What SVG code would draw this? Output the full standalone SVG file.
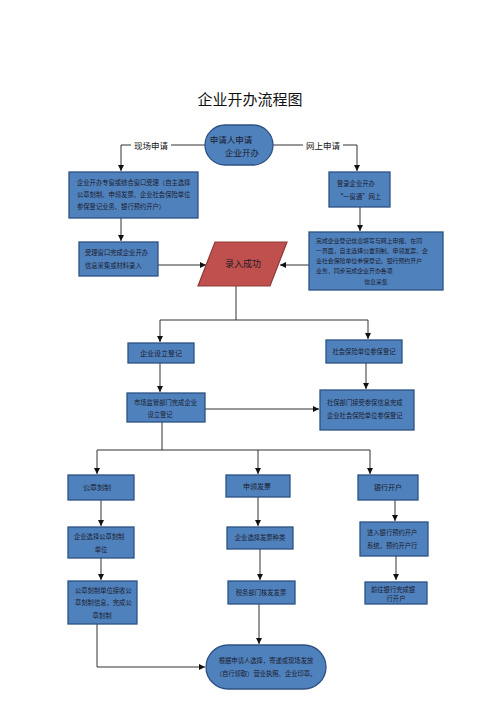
<svg xmlns="http://www.w3.org/2000/svg" width="500" height="708" viewBox="0 0 500 708">
<style>
.t{font-family:"Noto Sans CJK SC","Noto Sans",sans-serif;fill:#1c1c2c}
.box{fill:#4f81bd;stroke:#2d5282;stroke-width:1.3}
.s{font-size:6.3px}
.m{font-size:7px}
.ln{fill:none;stroke:#333;stroke-width:1}
.lbl{font-family:"Noto Sans CJK SC","Noto Sans",sans-serif;font-size:8.5px;fill:#111}
</style>
<defs>
<marker id="ah" viewBox="0 0 8 8" refX="8" refY="4" markerWidth="6" markerHeight="6" orient="auto" markerUnits="userSpaceOnUse">
<path d="M0,0 L8,4 L0,8 z" fill="#111"/>
</marker>
</defs>
<rect width="500" height="708" fill="#fff"/>
<text x="250" y="105" text-anchor="middle" font-family="'Noto Sans CJK SC','Noto Sans',sans-serif" font-size="15" fill="#111">企业开办流程图</text>

<g id="connectors">
<path class="ln" d="M205,145 H121 V171" marker-end="url(#ah)"/>
<path class="ln" d="M273,145 H357 V171" marker-end="url(#ah)"/>
<path class="ln" d="M121,218 V241" marker-end="url(#ah)"/>
<path class="ln" d="M158,265 H206" marker-end="url(#ah)"/>
<path class="ln" d="M360,207 V231" marker-end="url(#ah)"/>
<path class="ln" d="M309,265 H280" marker-end="url(#ah)"/>
<path class="ln" d="M236,286 V320 M160,320 H368"/>
<path class="ln" d="M160,320 V342" marker-end="url(#ah)"/>
<path class="ln" d="M368,320 V339" marker-end="url(#ah)"/>
<path class="ln" d="M160,363 V392" marker-end="url(#ah)"/>
<path class="ln" d="M366,363 V389" marker-end="url(#ah)"/>
<path class="ln" d="M205,409 H319" marker-end="url(#ah)"/>
<path class="ln" d="M162,422 V450 M97,450 H370"/>
<path class="ln" d="M97,450 V474" marker-end="url(#ah)"/>
<path class="ln" d="M258,450 V474" marker-end="url(#ah)"/>
<path class="ln" d="M370,450 V474" marker-end="url(#ah)"/>
<path class="ln" d="M101,500 V526" marker-end="url(#ah)"/>
<path class="ln" d="M258,497 V526" marker-end="url(#ah)"/>
<path class="ln" d="M395,500 V521" marker-end="url(#ah)"/>
<path class="ln" d="M101,558 V580" marker-end="url(#ah)"/>
<path class="ln" d="M260,549 V580" marker-end="url(#ah)"/>
<path class="ln" d="M396,556 V580" marker-end="url(#ah)"/>
<path class="ln" d="M97,624 V667 H205" marker-end="url(#ah)"/>
<path class="ln" d="M259,604 V644" marker-end="url(#ah)"/>
<rect x="131" y="139" width="40" height="12" fill="#fff"/>
<text class="lbl" x="151" y="148.5" text-anchor="middle">现场申请</text>
<rect x="303" y="139" width="40" height="12" fill="#fff"/>
<text class="lbl" x="323" y="148.5" text-anchor="middle">网上申请</text>
</g>

<g id="start">
<rect class="box" x="205" y="125" width="68" height="40" rx="20" ry="20"/>
<text class="t" x="231" y="143" text-anchor="middle" font-size="8.5">申请人申请</text>
<text class="t" x="242" y="156" text-anchor="middle" font-size="8.5">企业开办</text>
</g>

<g id="onsite1">
<rect class="box" x="69" y="172" width="129" height="46"/>
<text class="t s" x="77" y="185">企业开办专窗或综合窗口受理（自主选择</text>
<text class="t s" x="77" y="197">公章刻制、申领发票、企业社会保险单位</text>
<text class="t s" x="77" y="209">参保登记业务、银行预约开户）</text>
</g>

<g id="onsite2">
<rect class="box" x="79" y="242" width="79" height="34"/>
<text class="t s" x="85" y="255">受理窗口完成企业开办</text>
<text class="t s" x="85" y="268">信息采集或材料录入</text>
</g>

<g id="online1">
<rect class="box" x="329" y="172" width="61" height="35"/>
<text class="t s" x="337" y="186">登录企业开办</text>
<text class="t s" x="337" y="199">“一窗通”网上</text>
</g>

<g id="online2">
<rect class="box" x="309" y="232" width="134" height="58"/>
<text class="t" font-size="5.9" x="316" y="243">完成企业登记信息填写与网上申报，在同</text>
<text class="t" font-size="5.9" x="316" y="253">一界面，自主选择公章刻制、申领发票、企</text>
<text class="t" font-size="5.9" x="316" y="263">业社会保险单位参保登记、银行预约开户</text>
<text class="t" font-size="5.9" x="316" y="273">业务，同步完成企业开办各项</text>
<text class="t" font-size="5.9" x="376" y="284" text-anchor="middle">信息采集</text>
</g>

<g id="success">
<polygon points="215,242 287,242 270,286 198,286" fill="#c0504d" stroke="#8c3a38" stroke-width="1.2"/>
<text class="t" x="243" y="267" text-anchor="middle" font-size="9" fill="#2a1010">录入成功</text>
</g>

<g id="setup">
<rect class="box" x="128" y="343" width="66" height="20"/>
<text class="t m" x="161" y="356" text-anchor="middle">企业设立登记</text>
</g>

<g id="social">
<rect class="box" x="326" y="340" width="76" height="23"/>
<text class="t s" x="364" y="354" text-anchor="middle">社会保险单位参保登记</text>
</g>

<g id="market">
<rect class="box" x="127" y="393" width="78" height="29"/>
<text class="t s" x="134" y="405">市场监管部门完成企业</text>
<text class="t s" x="160" y="417" text-anchor="middle">设立登记</text>
</g>

<g id="socialdone">
<rect class="box" x="320" y="390" width="94" height="40"/>
<text class="t s" x="327" y="405">社保部门接受参保信息完成</text>
<text class="t s" x="327" y="418">企业社会保险单位参保登记</text>
</g>

<g id="seal">
<rect class="box" x="68" y="475" width="66" height="25"/>
<text class="t m" x="97" y="490" text-anchor="middle">公章刻制</text>
</g>

<g id="invoice">
<rect class="box" x="226" y="475" width="64" height="22"/>
<text class="t m" x="257" y="489" text-anchor="middle">申领发票</text>
</g>

<g id="bank">
<rect class="box" x="358" y="475" width="60" height="25"/>
<text class="t m" x="388" y="490" text-anchor="middle">银行开户</text>
</g>

<g id="seal2">
<rect class="box" x="68" y="527" width="66" height="31"/>
<text class="t s" x="74" y="539">企业选择公章刻制</text>
<text class="t s" x="101" y="552" text-anchor="middle">单位</text>
</g>

<g id="invoice2">
<rect class="box" x="227" y="527" width="66" height="22"/>
<text class="t s" x="260" y="540" text-anchor="middle">企业选择发票种类</text>
</g>

<g id="bank2">
<rect class="box" x="360" y="522" width="68" height="34"/>
<text class="t s" x="367" y="535">进入银行预约开户</text>
<text class="t s" x="367" y="548">系统，预约开户行</text>
</g>

<g id="seal3">
<rect class="box" x="68" y="581" width="69" height="43"/>
<text class="t s" x="75" y="593">公章刻制单位接收公</text>
<text class="t s" x="75" y="605">章刻制信息，完成公</text>
<text class="t s" x="102" y="618" text-anchor="middle">章刻制</text>
</g>

<g id="invoice3">
<rect class="box" x="228" y="581" width="67" height="23"/>
<text class="t s" x="261" y="595" text-anchor="middle">税务部门核发发票</text>
</g>

<g id="bank3">
<rect class="box" x="365" y="582" width="62" height="22"/>
<text class="t s" x="371" y="592">前往银行完成银</text>
<text class="t s" x="396" y="601" text-anchor="middle">行开户</text>
</g>

<g id="end">
<rect class="box" x="206" y="645" width="120" height="44" rx="22" ry="22"/>
<text class="t s" x="266" y="663" text-anchor="middle">根据申请人选择，寄递或现场发放</text>
<text class="t s" x="266" y="676" text-anchor="middle">（自行领取）营业执照、企业印章。</text>
</g>
</svg>
